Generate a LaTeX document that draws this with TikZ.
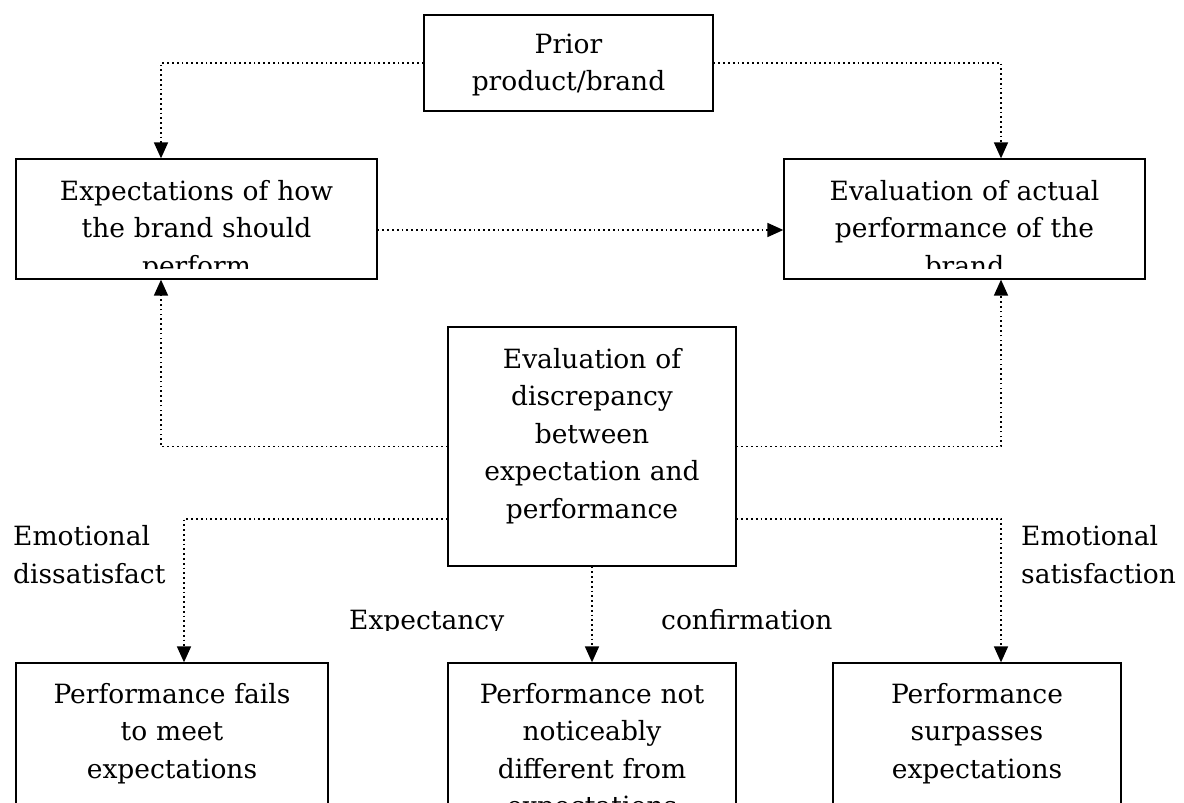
\documentclass[tikz,border=0pt]{standalone}
\usepackage{fontspec}
\setmainfont{DejaVu Serif}
\usetikzlibrary{arrows.meta}
\newcommand\bfnt{\fontsize{26.5}{37.5}\selectfont}
\tikzset{
  box/.style={draw, line width=1.3pt, inner sep=0pt},
  conn/.style={line width=1.7pt, dash pattern=on 1.7pt off 3.1pt},
  arr/.style={conn, -{Triangle[length=16pt,width=14pt]}},
  txt/.style={font=\bfnt, align=center, text width=420pt, inner sep=0pt, anchor=base},
  lbl/.style={font=\bfnt, align=left, inner sep=0pt, anchor=base west},
}
\begin{document}
\begin{tikzpicture}[x=1pt,y=-1pt]
\useasboundingbox (0,0) rectangle (1184,803);
\fill[white] (0,0) rectangle (1184,803);
\clip (0,0) rectangle (1184,803);
% boxes
\node[box, minimum width=289pt, minimum height=96pt] (top) at (568.5,63) {};
\node[box, minimum width=361pt, minimum height=120pt] (left) at (196.5,219) {};
\node[box, minimum width=361pt, minimum height=120pt] (right) at (964.5,219) {};
\node[box, minimum width=288pt, minimum height=239pt] (center) at (592,446.5) {};
\node[box, minimum width=312pt, minimum height=170pt] (bot1) at (172,748) {};
\node[box, minimum width=288pt, minimum height=170pt] (bot2) at (592,748) {};
\node[box, minimum width=288pt, minimum height=170pt] (bot3) at (977,748) {};
% box texts
\node[txt] (topT) at (568.5,53) {Prior\\product/brand};
\begin{scope}
\clip (left.north west) rectangle ([yshift=11pt]left.south east);
\node[txt] (leftT) at (196.5,200) {Expectations of how\\the brand should\\perform};
\end{scope}
\begin{scope}
\clip (right.north west) rectangle ([yshift=11pt]right.south east);
\node[txt] (rightT) at (964.5,200) {Evaluation of actual\\performance of the\\brand};
\end{scope}
\node[txt] (centerT) at (592,368) {Evaluation of\\discrepancy\\between\\expectation and\\performance};
\node[txt] (bot1T) at (172,703) {Performance fails\\to meet\\expectations};
\node[txt] (bot2T) at (592,703) {Performance not\\noticeably\\different from\\expectations};
\node[txt] (bot3T) at (977,703) {Performance\\surpasses\\expectations};
% labels
\node[lbl] (emoD) at (13,583) {Emotional\\dissatisfact};
\node[lbl] (emoS) at (1021,583) {Emotional\\satisfaction};
\begin{scope}
\clip (300,580) rectangle (900,630);
\node[lbl] (expc) at (349,629) {Expectancy};
\node[lbl] (conf) at (661,629) {confirmation};
\end{scope}
% helper coordinates
\coordinate (kL) at (161,0);
\coordinate (kR) at (1001,0);
\coordinate (kB) at (184,0);
\coordinate (ya) at (0,230);
\coordinate (yb) at (0,519);
% connectors
\draw[arr] (top.west) -| (left.north -| kL);
\draw[arr] (top.east) -| (right.north -| kR);
\draw[arr] (left.east |- ya) -- (right.west |- ya);
\draw[arr] (center.west) -| (left.south -| kL);
\draw[arr] (center.east) -| (right.south -| kR);
\draw[arr] (center.west |- yb) -| (bot1.north -| kB);
\draw[arr] (center.south) -- (bot2.north);
\draw[arr] (center.east |- yb) -| (bot3.north -| kR);
\end{tikzpicture}
\end{document}
